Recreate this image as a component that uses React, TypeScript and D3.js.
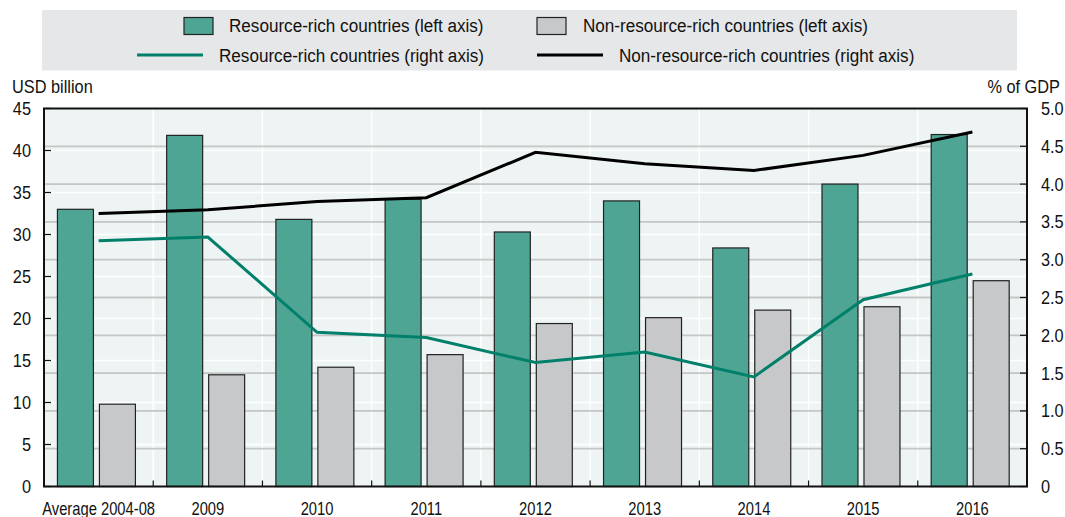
import * as d3 from "d3";

const categories = ["Average 2004-08", "2009", "2010", "2011", "2012", "2013", "2014", "2015", "2016"];
const richBars = [33.0, 41.8, 31.8, 34.2, 30.3, 34.0, 28.4, 36.0, 41.9];
const nonRichBars = [9.8, 13.3, 14.2, 15.7, 19.4, 20.1, 21.0, 21.4, 24.5];
const richLine = [3.25, 3.3, 2.04, 1.97, 1.64, 1.78, 1.45, 2.47, 2.81];
const nonRichLine = [3.61, 3.66, 3.77, 3.82, 4.42, 4.27, 4.18, 4.38, 4.69];
const leftTicks = [0, 5, 10, 15, 20, 25, 30, 35, 40, 45];
const rightTicks = [0, 0.5, 1, 1.5, 2, 2.5, 3, 3.5, 4, 4.5, 5];

const W = 1065;
const H = 517;
const margin = { top: 108.5, right: 38, bottom: 30.5, left: 44 };
const FONT = "'Liberation Sans', Arial, sans-serif";

const GREEN_BAR = "#4ea594";
const GRAY_BAR = "#c7c8ca";
const GREEN_LINE = "#00806a";

// narrow text: Arial-like font squeezed horizontally
function T({ x, y, anchor = "start", size = 19, sx = 0.86, children }: any) {
	return (
		<text
			transform={`translate(${x},${y}) scale(${sx},1)`}
			textAnchor={anchor}
			dominantBaseline="central"
			fontSize={size}
			fill="#111"
		>
			{children}
		</text>
	);
}

export default function App() {
	const iw = W - margin.left - margin.right;
	const ih = H - margin.top - margin.bottom;

	const x0 = d3.scaleBand().domain(categories).range([0, iw]).padding(0);
	const x1 = d3
		.scaleBand()
		.domain(["rich", "nonrich"])
		.range([0, x0.bandwidth()])
		.paddingInner(0.143)
		.paddingOuter(0.372)
		.align(0.43);
	const yL = d3.scaleLinear().domain([0, 45]).range([ih, 0]);
	const yR = d3.scaleLinear().domain([0, 5]).range([ih, 0]);

	const cx = (c: string) => (x0(c) ?? 0) + x0.bandwidth() / 2;
	const line = d3
		.line<number>()
		.x((_, i) => cx(categories[i]))
		.y((d) => yR(d));

	const fmtR = (v: number) => (v === 0 ? "0" : d3.format(".1f")(v));

	return (
		<svg
			width={W}
			height={H}
			style={{ position: "absolute", left: 0, top: 0, display: "block", background: "#fff" }}
			fontFamily={FONT}
		>
			{/* legend */}
			<rect x={42} y={10} width={975} height={60.5} fill="#e6e7e8" />
			<rect x={184} y={17.5} width={29} height={17} fill={GREEN_BAR} stroke="#222" strokeWidth={1.2} />
			<T x={229} y={26} sx={0.9}>Resource-rich countries (left axis)</T>
			<rect x={537} y={17.5} width={29} height={17} fill={GRAY_BAR} stroke="#222" strokeWidth={1.2} />
			<T x={583} y={26} sx={0.9}>Non-resource-rich countries (left axis)</T>
			<line x1={137} x2={203} y1={55} y2={55} stroke={GREEN_LINE} strokeWidth={3} />
			<T x={219} y={56} sx={0.9}>Resource-rich countries (right axis)</T>
			<line x1={537} x2={603} y1={55} y2={55} stroke="#000" strokeWidth={3} />
			<T x={619} y={56} sx={0.9}>Non-resource-rich countries (right axis)</T>

			<T x={12} y={87}>USD billion</T>
			<T x={1060} y={87} anchor="end">% of GDP</T>

			<g transform={`translate(${margin.left},${margin.top})`}>
				<rect width={iw} height={ih} fill="#edf4f3" />
				{/* white grid: left ticks + category boundaries */}
				{leftTicks.slice(1, -1).map((t) => (
					<line key={"wl" + t} x1={0} x2={iw} y1={yL(t)} y2={yL(t)} stroke="#fff" strokeWidth={1.5} />
				))}
				{categories.slice(1).map((c) => (
					<line key={"wv" + c} x1={x0(c)} x2={x0(c)} y1={0} y2={ih} stroke="#fff" strokeWidth={1.5} />
				))}
				{/* gray grid: right ticks */}
				{rightTicks.slice(1, -1).map((t) => (
					<line key={"gl" + t} x1={0} x2={iw} y1={yR(t)} y2={yR(t)} stroke="#c5c6c6" strokeWidth={1.8} />
				))}

				{/* bars */}
				{categories.map((c, i) => (
					<g key={"b" + c}>
						<rect
							x={(x0(c) ?? 0) + (x1("rich") ?? 0)}
							y={yL(richBars[i])}
							width={x1.bandwidth()}
							height={ih - yL(richBars[i])}
							fill={GREEN_BAR}
							stroke="#222"
							strokeWidth={1.2}
						/>
						<rect
							x={(x0(c) ?? 0) + (x1("nonrich") ?? 0)}
							y={yL(nonRichBars[i])}
							width={x1.bandwidth()}
							height={ih - yL(nonRichBars[i])}
							fill={GRAY_BAR}
							stroke="#222"
							strokeWidth={1.2}
						/>
					</g>
				))}

				{/* lines */}
				<path d={line(richLine) ?? ""} fill="none" stroke={GREEN_LINE} strokeWidth={3} />
				<path d={line(nonRichLine) ?? ""} fill="none" stroke="#000" strokeWidth={3} />

				{/* frame */}
				<rect width={iw} height={ih} fill="none" stroke="#111" strokeWidth={2} />

				{/* left axis */}
				{leftTicks.map((t) => (
					<g key={"lt" + t}>
						<line x1={0} x2={7} y1={yL(t)} y2={yL(t)} stroke="#111" strokeWidth={1.2} />
						<T x={-13} y={yL(t)} anchor="end">{t}</T>
					</g>
				))}
				{/* right axis */}
				{rightTicks.map((t) => (
					<g key={"rt" + t}>
						<line x1={iw - 7} x2={iw} y1={yR(t)} y2={yR(t)} stroke="#111" strokeWidth={1.2} />
						<T x={iw + 14} y={yR(t)}>{fmtR(t)}</T>
					</g>
				))}
				{/* bottom axis */}
				{categories.slice(1).map((c) => (
					<line key={"bt" + c} x1={x0(c)} x2={x0(c)} y1={ih} y2={ih - 6} stroke="#111" strokeWidth={1.2} />
				))}
				{categories.map((c) => (
					<T key={"bl" + c} x={cx(c)} y={ih + 22} anchor="middle" size={18} sx={0.82}>{c}</T>
				))}
			</g>
		</svg>
	);
}
